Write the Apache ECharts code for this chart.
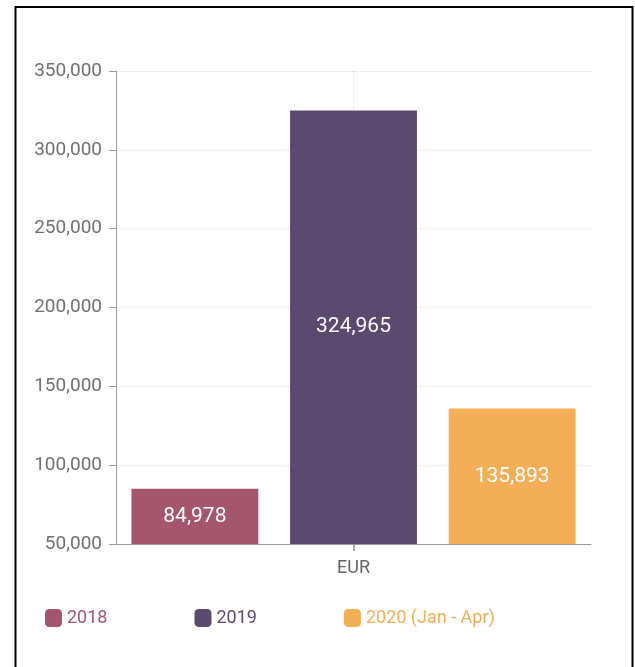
<!DOCTYPE html>
<html>
<head>
<meta charset="utf-8">
<script src="https://cdn.jsdelivr.net/npm/echarts@6/dist/echarts.min.js"></script>
<style>
html,body{margin:0;padding:0;background:#fff;}
#c{width:635px;height:667px;}
</style>
</head>
<body>
<div id="c"></div>
<script>
const categories = ['EUR'];
const seriesNames = ['2018', '2019', '2020 (Jan - Apr)'];
const values2018 = [84978];
const values2019 = [324965];
const values2020 = [135893];
const colors = ['#a3566c', '#5c4970', '#f3ae57'];
const yMin = 50000, yMax = 350000, yInterval = 50000;

const chart = echarts.init(document.getElementById('c'));
const allValues = [values2018, values2019, values2020];
const fmt = v => v.toLocaleString('en-US');

const series = seriesNames.map((name, i) => ({
  name: name,
  type: 'bar',
  xAxisIndex: 0,
  data: allValues[i],
  itemStyle: { color: colors[i] },
  barGap: '25%',
  barCategoryGap: '6.5%',
  label: {
    show: true,
    position: 'inside',
    color: '#fff',
    fontFamily: 'Roboto',
    fontSize: 21,
    formatter: p => fmt(p.value)
  },
  markLine: i === 1 ? {
    silent: true,
    z: 1,
    symbol: 'none',
    label: { show: false },
    lineStyle: { color: '#dcdcdc', type: 'dotted', width: 1 },
    data: [{ xAxis: categories[0] }]
  } : undefined
}));

chart.setOption({
  animation: false,
  textStyle: { fontFamily: 'Roboto' },
  grid: { left: 116, right: 44, top: 71, bottom: 123, containLabel: false },
  graphic: [{
    type: 'rect',
    shape: { x: 15.5, y: 7, width: 617, height: 700 },
    style: { fill: 'none', stroke: '#000', lineWidth: 2 },
    silent: true
  }],
  legend: {
    left: 45,
    top: 609,
    padding: 0,
    itemWidth: 17,
    itemHeight: 18,
    itemGap: 87,
    icon: 'roundRect',
    textStyle: { fontSize: 18, fontFamily: 'Roboto' },
    data: seriesNames.map((n, i) => ({ name: n, textStyle: { color: colors[i] } }))
  },
  xAxis: [{
    type: 'category',
    data: categories,
    axisLine: { lineStyle: { color: '#999', width: 1 } },
    axisTick: { show: false },
    axisLabel: { color: '#666', fontSize: 18, margin: 15 },
    splitLine: { show: false }
  }, {
    type: 'value',
    position: 'bottom',
    min: 0,
    max: 2,
    interval: 1,
    axisLine: { show: false },
    axisTick: { show: true, customValues: [1], length: 7, lineStyle: { color: '#888', width: 1.5 } },
    axisLabel: { show: false },
    splitLine: { show: false }
  }],
  yAxis: {
    type: 'value',
    min: yMin,
    max: yMax,
    interval: yInterval,
    axisLine: { show: true, lineStyle: { color: '#999', width: 1 } },
    axisTick: { show: true, length: 7, lineStyle: { color: '#999' } },
    axisLabel: { color: '#707070', fontSize: 19, margin: 14, formatter: v => fmt(v) },
    splitLine: { show: true, lineStyle: { color: '#dcdcdc', type: 'dotted', width: 1 } }
  },
  series: series
});
</script>
</body>
</html>
